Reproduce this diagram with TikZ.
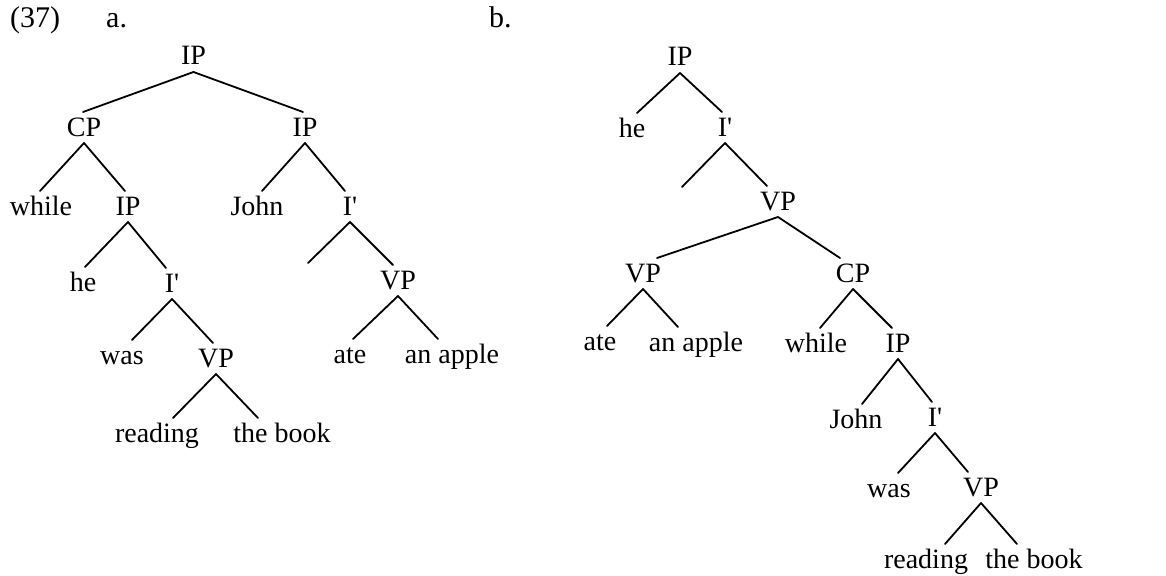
\documentclass[tikz,border=0pt]{standalone}
\usepackage{fontspec}
\setmainfont{LiberationSerif}[Extension=.ttf, UprightFont=*-Regular, BoldFont=*-Bold, ItalicFont=*-Italic]
\newcommand{\treefont}{\fontsize{28}{30}\selectfont}
\newcommand{\headfont}{\fontsize{30}{32}\selectfont}
\newcommand{\ibar}{I\textquotesingle}
\tikzset{
  lbl/.style={anchor=base, inner sep=0pt, outer sep=7pt, text height=17pt, text depth=0pt, font=\treefont},
  head/.style={anchor=base west, inner sep=0pt, font=\headfont},
  branch/.style={line width=1.8pt, line cap=round}
}
\begin{document}
\begin{tikzpicture}[x=1pt, y=-1pt]
\useasboundingbox (0,0) rectangle (1166,575);
% headings
\node[head] (num) at (10,28) {(37)};
\node[head] (ha) at (106,28) {a.};
\node[head] (hb) at (489,28) {b.};
% ---------- tree a ----------
\node[lbl] (aIP) at (193.5,65) {IP};
\node[lbl] (aCP) at (84,136) {CP};
\node[lbl] (aIPr) at (305,136) {IP};
\node[lbl] (awhile) at (41,215) {while};
\node[lbl] (aIPl) at (128,215) {IP};
\node[lbl] (aJohn) at (257,215) {John};
\node[lbl] (aIr) at (350,215) {\ibar};
\node[lbl] (ahe) at (83,291) {he};
\node[lbl] (aIl) at (172,292) {\ibar};
\coordinate (e1) at (308,263);
\node[lbl] (aVPr) at (398,289) {VP};
\node[lbl] (awas) at (122,364) {was};
\node[lbl] (aVPl) at (216,367) {VP};
\node[lbl] (aate) at (350,363) {ate};
\node[lbl] (aapple) at (452,363) {an apple};
\node[lbl] (areading) at (157,442) {reading};
\node[lbl] (abook) at (282,442) {the book};
\draw[branch] (aIP.south) -- ([xshift=-1pt]aCP.north);
\draw[branch] (aIP.south) -- ([xshift=-2pt]aIPr.north);
\draw[branch] (aCP.south) -- ([xshift=-1pt]awhile.north);
\draw[branch] (aCP.south) -- ([xshift=-3pt]aIPl.north);
\draw[branch] (aIPr.south) -- ([xshift=5pt]aJohn.north);
\draw[branch] (aIPr.south) -- ([xshift=-5pt]aIr.north);
\draw[branch] (aIPl.south) -- ([xshift=2pt]ahe.north);
\draw[branch] (aIPl.south) -- ([xshift=-6pt]aIl.north);
\draw[branch] (aIr.south) -- (e1);
\draw[branch] (aIr.south) -- ([xshift=-5pt]aVPr.north);
\draw[branch] (aIl.south) -- ([xshift=10pt]awas.north);
\draw[branch] (aIl.south) -- ([xshift=-3pt]aVPl.north);
\draw[branch] (aVPr.south) -- ([xshift=3pt]aate.north);
\draw[branch] (aVPr.south) -- ([xshift=-14pt]aapple.north);
\draw[branch] (aVPl.south) -- ([xshift=16pt]areading.north);
\draw[branch] (aVPl.south) -- ([xshift=-24pt]abook.north);
% ---------- tree b ----------
\node[lbl] (bIP) at (680,66) {IP};
\node[lbl] (bhe) at (632,137) {he};
\node[lbl] (bI1) at (725,136) {\ibar};
\coordinate (e2) at (682,187);
\node[lbl] (bVP1) at (778,210) {VP};
\node[lbl] (bVP2) at (643,282) {VP};
\node[lbl] (bCP) at (853,282) {CP};
\node[lbl] (bate) at (600,350) {ate};
\node[lbl] (bapple) at (696,351) {an apple};
\node[lbl] (bwhile) at (816,352) {while};
\node[lbl] (bIP2) at (898,352) {IP};
\node[lbl] (bJohn) at (856,428) {John};
\node[lbl] (bI2) at (935,426) {\ibar};
\node[lbl] (bwas) at (889,497) {was};
\node[lbl] (bVP3) at (981,496) {VP};
\node[lbl] (breading) at (926,568) {reading};
\node[lbl] (bbook) at (1034,568) {the book};
\draw[branch] (bIP.south) -- ([xshift=5pt]bhe.north);
\draw[branch] (bIP.south) -- ([xshift=-3pt]bI1.north);
\draw[branch] (bI1.south) -- (e2);
\draw[branch] (bI1.south) -- ([xshift=-11pt]bVP1.north);
\draw[branch] (bVP1.south) -- ([xshift=14pt]bVP2.north);
\draw[branch] (bVP1.south) -- ([xshift=-13pt]bCP.north);
\draw[branch] (bVP2.south) -- ([xshift=7pt]bate.north);
\draw[branch] (bVP2.south) -- ([xshift=-18pt]bapple.north);
\draw[branch] (bCP.south) -- ([xshift=4pt]bwhile.north);
\draw[branch] (bCP.south) -- ([xshift=-6pt]bIP2.north);
\draw[branch] (bIP2.south) -- ([xshift=6pt]bJohn.north);
\draw[branch] (bIP2.south) -- ([xshift=-3pt]bI2.north);
\draw[branch] (bI2.south) -- ([xshift=9pt]bwas.north);
\draw[branch] (bI2.south) -- ([xshift=-13pt]bVP3.north);
\draw[branch] (bVP3.south) -- ([xshift=19pt]breading.north);
\draw[branch] (bVP3.south) -- ([xshift=-17pt]bbook.north);
\end{tikzpicture}
\end{document}
